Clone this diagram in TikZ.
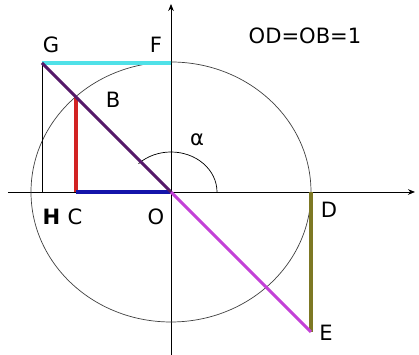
\documentclass[tikz,border=0pt]{standalone}
\usepackage{fontspec}
\setmainfont{DejaVu Sans}
\usepackage{tikz}
\usetikzlibrary{arrows.meta,positioning,calc}
\definecolor{cyanline}{RGB}{80,225,232}
\definecolor{redline}{RGB}{210,35,35}
\definecolor{blueline}{RGB}{20,20,170}
\definecolor{purpleline}{RGB}{85,25,105}
\definecolor{magline}{RGB}{195,65,215}
\definecolor{oliveline}{RGB}{125,120,35}

\begin{document}
\begin{tikzpicture}[every node/.style={font=\fontsize{15}{18}\selectfont},
  thinline/.style={line width=0.6pt, black},
  seg/.style={line width=2.8pt}]
\useasboundingbox (-4.275,-4.075) rectangle (6.2,4.8);
% axes and circle
\coordinate (O) at (0,0);
\draw[thinline, -{Stealth[length=5pt,width=4pt]}] (-4.075,0)--(6.1,0);
\draw[thinline, -{Stealth[length=5pt,width=4pt]}] (0,-4.075)--(0,4.7);
\draw[line width=0.5pt, black!75] (O) ellipse [x radius=3.5, y radius=3.25];
\draw[line width=0.5pt] (1.15,0) arc[start angle=0, end angle=135, x radius=1.15, y radius=1.0];
% points
\coordinate (B) at (-2.382,2.382);
\coordinate (C) at (-2.382,0);
\coordinate (G) at (-3.225,3.225);
\coordinate (F) at (0,3.225);
\coordinate (H) at (-3.225,0);
\coordinate (D) at (3.5,0);
\coordinate (E) at (3.5,-3.5);
% segments
\draw[thinline] (G)--(H);
\draw[seg, cyanline] (G)--(F);
\draw[seg, redline] (C)--(B);
\draw[seg, blueline] (C)--(O);
\draw[seg, oliveline] (D)--(E);
\draw[line width=2.2pt, magline] (O)--(E);
\draw[line width=2.2pt, purpleline] (G)--(O);
% labels
\node (lG) at (-3.0,3.675) {G};
\node (lF) at (-0.375,3.675) {F};
\node (lB) at (-1.45,2.3) {B};
\node (la) at (0.65,1.3) {α};
\node (lH) at (-2.99,-0.625) {\textbf{H}};
\node (lC) at (-2.4,-0.625) {C};
\node (lO) at (-0.375,-0.625) {O};
\node (lD) at (3.95,-0.45) {D};
\node (lE) at (3.875,-3.525) {E};
\node (eq) at (3.35,3.9) {OD=OB=1};
\end{tikzpicture}
\end{document}
